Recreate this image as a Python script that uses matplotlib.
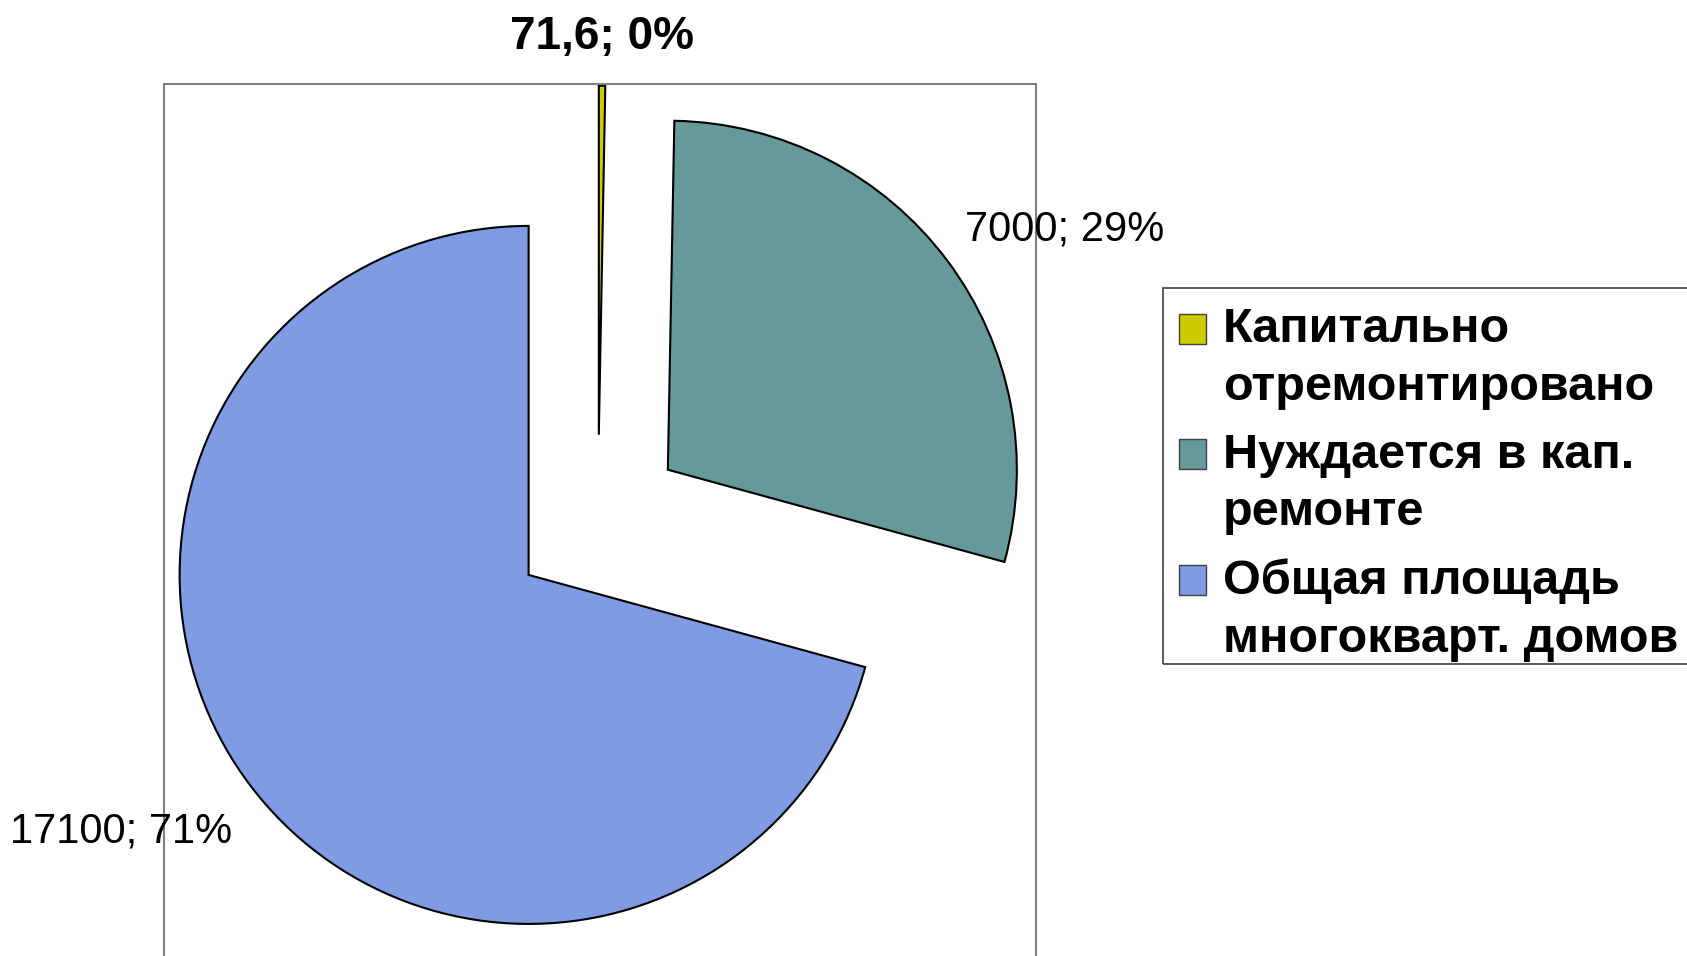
import matplotlib
matplotlib.use("Agg")
import matplotlib.pyplot as plt
from matplotlib.patches import Rectangle
from matplotlib.legend_handler import HandlerPatch

# ==============================================================================
# Data
# ==============================================================================
categories = ["Капитально\nотремонтировано",
              "Нуждается в кап.\nремонте",
              "Общая площадь\nмногокварт. домов"]
values = [71.6, 7000, 17100]
colors = ["#CCCC00", "#669999", "#7F9BE3"]

plt.rcParams['font.family'] = ['Liberation Sans', 'DejaVu Sans']

W, H = 1687, 956
fig = plt.figure(figsize=(W / 100, H / 100), dpi=100)

# plot area box (pixel layout of the original slide)
left, right, top, bottom = 163.5, 1036, 84, 975
ax = fig.add_axes([left / W, 1 - bottom / H, (right - left) / W, (bottom - top) / H])

total = sum(values)
labels = [f"{v:g}".replace('.', ',') + f"; {round(100 * v / total)}%" for v in values]

wedges, texts = ax.pie(values, colors=colors, labels=labels, startangle=90,
                       counterclock=False, explode=[0.25] * 3, labeldistance=1.1,
                       frame=True,
                       wedgeprops=dict(edgecolor='black', linewidth=1.5),
                       textprops=dict(fontsize=30, color='black'))

# the tiny slice label sits centered on top
texts[0].set_ha('center')
texts[0].set_va('bottom')
texts[0].set_fontweight('bold')
texts[0].set_fontsize(33)

# small nudges of the data labels (data units)
nudges = [(0.0, -0.022), (-0.028, 0.028), (0.025, -0.068)]
for t, (dx, dy) in zip(texts, nudges):
    x, y = t.get_position()
    t.set_position((x + dx, y + dy))
    t.set_clip_on(False)

# pixel scale: radius 1 -> 349 px, pie centre at (598, 522)
scale = 349.0
cx, cy = 598 - left, 522 - top
ax_w, ax_h = right - left, bottom - top
ax.set_aspect('auto')
ax.set_xlim(-cx / scale, (ax_w - cx) / scale)
ax.set_ylim(-(ax_h - cy) / scale, cy / scale)
ax.set_xticks([])
ax.set_yticks([])
for side, sp in ax.spines.items():
    sp.set_color('#808080')
    sp.set_linewidth(1.5)
ax.spines['bottom'].set_visible(False)


# legend squares sit next to the first line of each two-line label
def top_square(legend, orig_handle, xdescent, ydescent, width, height, fontsize):
    return Rectangle((-xdescent, -ydescent + 0.62 * fontsize), width, height)


LEG_FS = 35
leg = fig.legend(wedges, categories, loc='upper left',
                 bbox_to_anchor=(1160 / W, 1 - 288 / H), bbox_transform=fig.transFigure,
                 borderaxespad=0, borderpad=0.4,
                 prop=dict(weight='bold', size=LEG_FS),
                 handlelength=0.55, handleheight=0.57, handletextpad=0.35,
                 labelspacing=0.48, frameon=False,
                 handler_map={w: HandlerPatch(patch_func=top_square) for w in wedges})
for t in leg.get_texts():
    t.set_linespacing(1.35)
for h in leg.legend_handles:
    h.set_edgecolor('#404040')
    h.set_linewidth(1.0)

# legend frame (runs off the right edge of the slide)
fig.add_artist(Rectangle((1163 / W, 1 - 664 / H), 600 / W, (664 - 288) / H,
                         transform=fig.transFigure, facecolor='none',
                         edgecolor='#404040', linewidth=1.2))

plt.savefig("out.png", dpi=100)
